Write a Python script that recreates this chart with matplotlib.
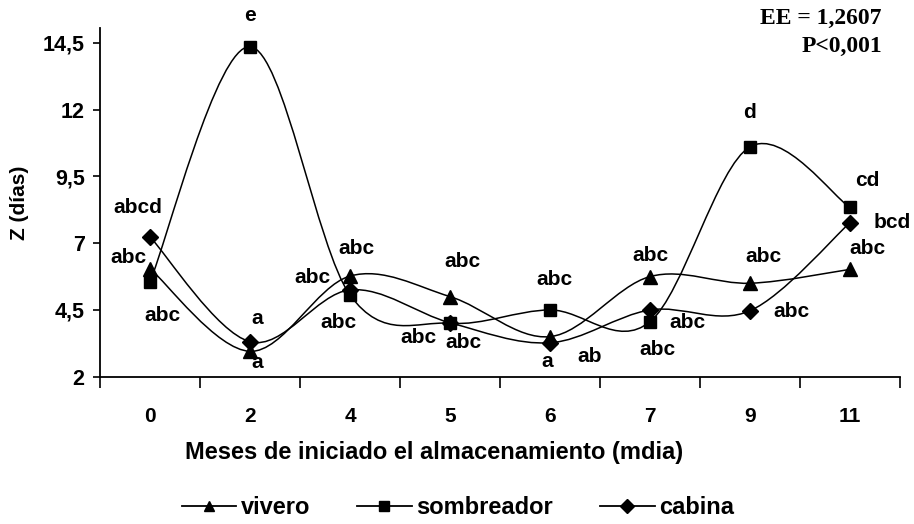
import matplotlib
matplotlib.use("Agg")
import matplotlib.pyplot as plt
import numpy as np
from matplotlib.path import Path
from matplotlib.patches import PathPatch
from matplotlib.ticker import FuncFormatter, FixedLocator

months = ["0", "2", "4", "5", "6", "7", "9", "11"]
vivero = [6.05, 2.95, 5.77, 5.0, 3.5, 5.75, 5.5, 6.02]
sombreador = [5.56, 14.36, 5.06, 4.0, 4.5, 4.06, 10.61, 8.34]
cabina = [7.24, 3.31, 5.25, 4.02, 3.27, 4.5, 4.47, 7.77]

vivero_lbl = ["abc", "a", "abc", "abc", "ab", "abc", "abc", "abc"]
sombreador_lbl = ["abc", "e", "abc", "abc", "abc", "abc", "d", "cd"]
cabina_lbl = ["abcd", "a", "abc", "abc", "a", "abc", "abc", "bcd"]

# label offsets in pixels (layout only)
vivero_off = [(-22, 11), (7, -11), (6, 28), (12, 35), (40, -20), (0, 21), (13, 27), (17, 21)]
sombreador_off = [(12, -34), (0, 31), (-12, -28), (-32, -14), (4, 30), (7, -28), (0, 34), (17, 27)]
cabina_off = [(-12, 29), (7, 23), (-38, 12), (13, -20), (-3, -19), (37, -13), (41, -1), (42, 0)]

SANS = ["Liberation Sans", "DejaVu Sans"]
SERIF = ["Liberation Serif", "DejaVu Serif"]


def smooth_path(x, y):
    # Catmull-Rom style bezier, like spreadsheet "smoothed line"
    pts = np.column_stack([x, y]).astype(float)
    n = len(pts)
    verts = [pts[0]]
    codes = [Path.MOVETO]
    for i in range(n - 1):
        p0 = pts[i - 1] if i > 0 else pts[i]
        p1 = pts[i]
        p2 = pts[i + 1]
        p3 = pts[i + 2] if i + 2 < n else pts[i + 1]
        c1 = p1 + (p2 - p0) / 6.0
        c2 = p2 - (p3 - p1) / 6.0
        verts += [c1, c2, p2]
        codes += [Path.CURVE4] * 3
    return Path(verts, codes)


fig = plt.figure(figsize=(9.14, 5.24), dpi=100)
ax = fig.add_axes([100 / 914, 1 - 376.7 / 524, 800 / 914, (376.7 - 28) / 524])

x = np.arange(len(months))
series = [
    ("vivero", vivero, "^", 10, vivero_lbl, vivero_off),
    ("sombreador", sombreador, "s", 8.5, sombreador_lbl, sombreador_off),
    ("cabina", cabina, "D", 8.5, cabina_lbl, cabina_off),
]

for name, vals, mk, ms, lbls, offs in series:
    ax.add_patch(PathPatch(smooth_path(x, vals), facecolor="none", edgecolor="black", lw=1.1))
    ax.plot(x, vals, linestyle="none", marker=mk, markersize=ms, color="black",
            label=name, zorder=3)
    for xi, yi, t, o in zip(x, vals, lbls, offs):
        ax.annotate(t, (xi, yi), xytext=o, textcoords="offset pixels",
                    ha="center", va="center", fontsize=15, fontweight="bold",
                    family=SANS)

ax.set_xlim(-0.5, len(months) - 0.5)
ax.set_ylim(2, 15.06)
ax.yaxis.set_major_locator(FixedLocator([2, 4.5, 7, 9.5, 12, 14.5]))
ax.yaxis.set_major_formatter(FuncFormatter(lambda v, p: f"{v:g}".replace(".", ",")))
ax.set_xticks(x)
ax.set_xticklabels(months)
ax.set_xticks(np.arange(-0.5, len(months)), minor=True)
ax.tick_params(axis="x", which="major", length=0, pad=22)
ax.tick_params(axis="x", which="minor", length=8, width=1.2, direction="out")
ax.tick_params(axis="y", length=5, width=1.2, direction="out", pad=6)
for lab in ax.get_yticklabels():
    lab.set_fontsize(15.5)
    lab.set_fontweight("bold")
    lab.set_family(SANS)
for lab in ax.get_xticklabels():
    lab.set_fontsize(15)
    lab.set_fontweight("bold")
    lab.set_family(SANS)

ax.spines["top"].set_visible(False)
ax.spines["right"].set_visible(False)
ax.spines["left"].set_linewidth(1.3)
ax.spines["bottom"].set_linewidth(1.3)

ax.set_ylabel("Z (días)", fontsize=15, fontweight="bold", family=SANS, labelpad=10)

fig.text(434 / 914, 1 - 452 / 524, "Meses de iniciado el almacenamiento (mdia)",
         ha="center", va="center", fontsize=17, fontweight="bold", family=SANS)

fig.text(882 / 914, 1 - 18 / 524, "EE = 1,2607", ha="right", va="center",
         fontsize=17, fontweight="bold", family=SERIF)
fig.text(882 / 914, 1 - 46 / 524, "P<0,001", ha="right", va="center",
         fontsize=17, fontweight="bold", family=SERIF)

leg = fig.legend(loc="center", bbox_to_anchor=(458 / 914, 1 - 508 / 524), ncol=3,
                 frameon=False, handlelength=2.3, columnspacing=2.0, handletextpad=0.2,
                 prop={"family": SANS, "weight": "bold", "size": 17})
for h in leg.legend_handles:
    h.set_linestyle("-")
    h.set_linewidth(1.3)
    h.set_markersize(7)

fig.savefig("out.png", dpi=100)
